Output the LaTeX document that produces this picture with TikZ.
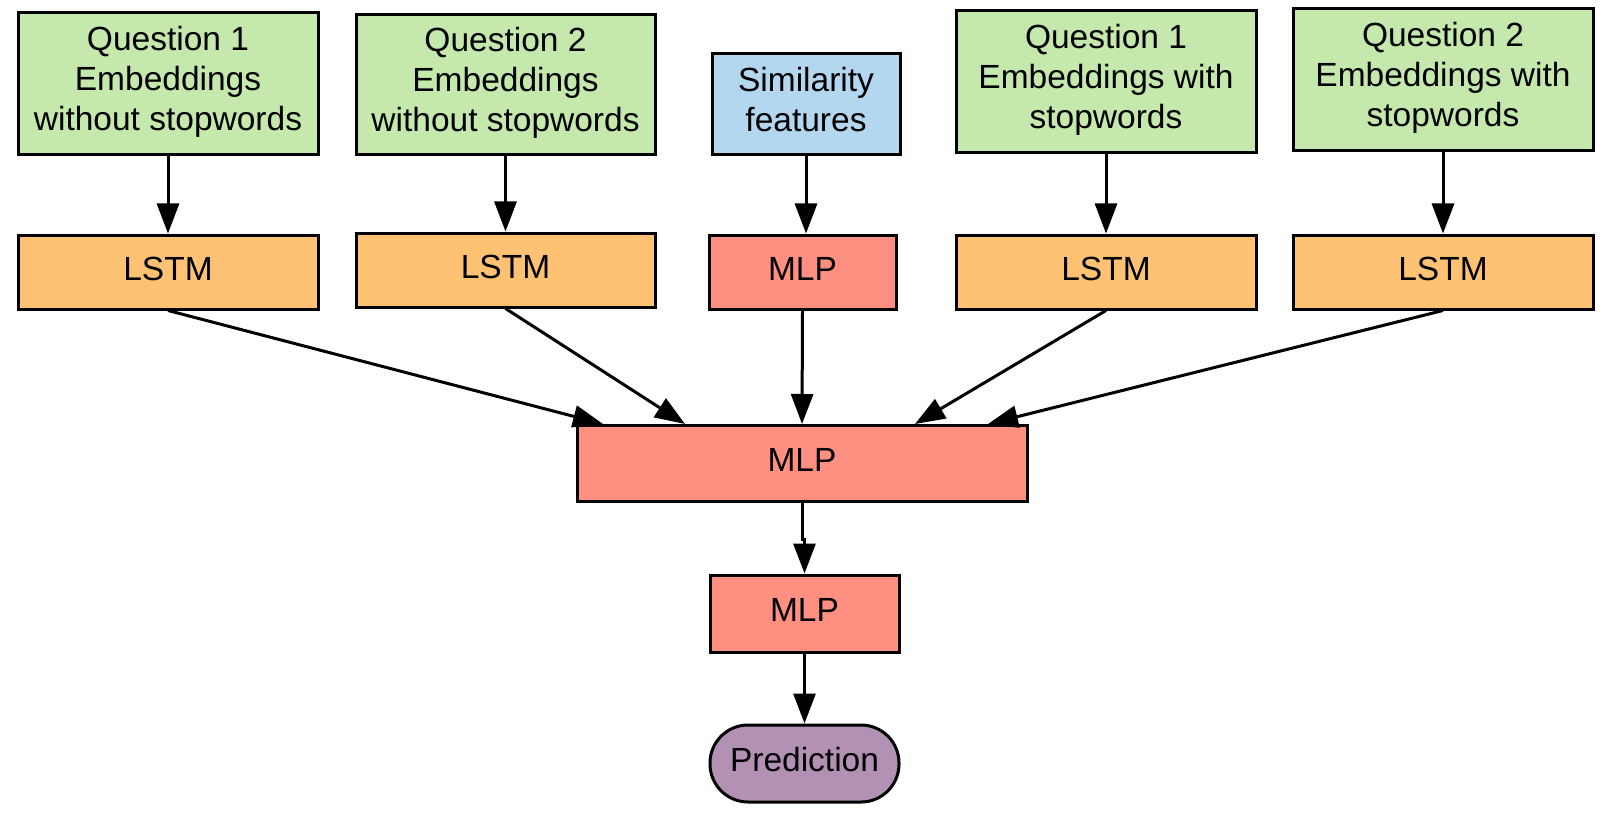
\documentclass[tikz,border=0pt]{standalone}
\usepackage{fontspec}
\setmainfont{Liberation Sans}
\usetikzlibrary{arrows.meta,calc}
\definecolor{embgreen}{RGB}{197,232,173}
\definecolor{lstmorange}{RGB}{254,194,114}
\definecolor{mlpsalmon}{RGB}{255,143,128}
\definecolor{simblue}{RGB}{180,215,240}
\definecolor{predpurple}{RGB}{179,145,181}
\begin{document}
\begin{tikzpicture}[x=1pt,y=-1pt,
  box/.style={draw=black,line width=3pt,rectangle,align=center,inner sep=0pt,
    font=\fontsize{33.5}{40}\selectfont},
  oneline/.style={text height=24pt,text depth=8pt},
  embbox/.style={box,fill=embgreen,minimum width=300pt,minimum height=142pt,text depth=11pt},
  lstmbox/.style={box,oneline,fill=lstmorange,minimum width=300pt,minimum height=74pt},
  mlpbox/.style={box,oneline,fill=mlpsalmon},
  arr/.style={line width=3pt,-{Triangle[length=30pt,width=22pt]}}]
\useasboundingbox (0,0) rectangle (1608,821);
% top row
\node[embbox] (q1n) at (168,84) {Question 1\\Embeddings\\without stopwords};
\node[embbox,minimum width=299pt,minimum height=140pt] (q2n) at (505.5,85) {Question 2\\Embeddings\\without stopwords};
\node[box,fill=simblue,minimum width=188pt,minimum height=101pt,text depth=10pt] (sim) at (806,104.5) {Similarity\\features};
\node[embbox] (q1w) at (1106,82) {Question 1\\Embeddings with\\stopwords};
\node[embbox] (q2w) at (1443,80) {Question 2\\Embeddings with\\stopwords};
% second row
\node[lstmbox] (l1) at (168,272) {LSTM};
\node[lstmbox,minimum width=299pt] (l2) at (505.5,270) {LSTM};
\node[mlpbox,minimum width=187pt,minimum height=74pt] (m0) at (802.5,272) {MLP};
\node[lstmbox] (l3) at (1106,272) {LSTM};
\node[lstmbox] (l4) at (1443,272) {LSTM};
% lower
\node[mlpbox,minimum width=450pt,minimum height=76pt] (mb) at (802,463.5) {MLP};
\node[mlpbox,minimum width=189pt,minimum height=77pt] (ms) at (804.5,613.5) {MLP};
\node[box,oneline,fill=predpurple,minimum width=189pt,minimum height=77pt,rounded corners=38pt] (pred) at (804.5,763.5) {Prediction};
% targets on big MLP
\coordinate (t1) at (603,424);
\coordinate (t2) at (685,424);
\coordinate (t4) at (915,424);
\coordinate (t5) at (988,424);
% connectors
\draw[arr] (q1n) -- (l1);
\draw[arr] (q2n) -- (l2);
\draw[arr] (sim.south) -- (sim.south |- m0.north);
\draw[arr] (q1w) -- (l3);
\draw[arr] (q2w) -- (l4);
\draw[arr] (l1.south) -- (t1);
\draw[arr] (l2.south) -- (t2);
\draw[arr] (m0.south) -- (mb.north);
\draw[arr] (l3.south) -- (t4);
\draw[arr] (l4.south) -- (t5);
\draw[arr] (mb.south) -- ++(0,36) -| (ms.north);
\draw[arr] (ms) -- (pred);
\end{tikzpicture}
\end{document}
